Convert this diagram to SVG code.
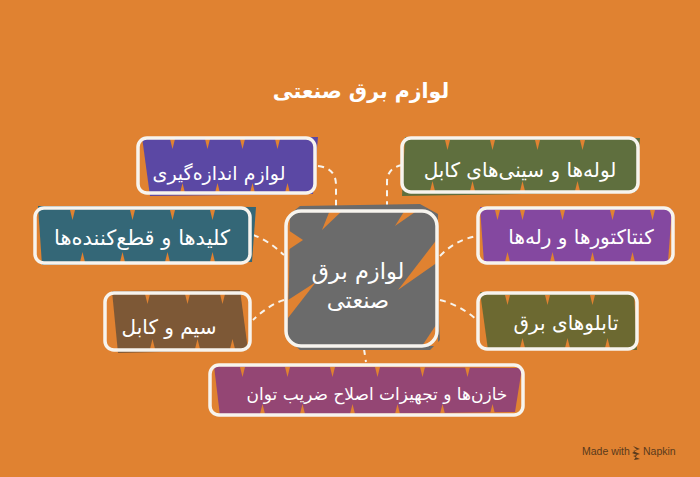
<svg xmlns="http://www.w3.org/2000/svg" xmlns:xlink="http://www.w3.org/1999/xlink" width="700" height="477" viewBox="0 0 700 477">
<style>
.bg{fill:#E08231}
.frame{fill:none;stroke:#F7F4EE;stroke-width:3.5}
.lbl{font-family:"DejaVu Sans","Noto Sans",sans-serif;font-size:20px;fill:#FFFFFF;text-anchor:middle;direction:rtl}
.ctr{font-size:22.5px}
.title{font-family:"DejaVu Sans","Noto Sans",sans-serif;font-size:20.5px;font-weight:bold;fill:#FFFFFF;text-anchor:middle;direction:rtl}
.conn{fill:none;stroke:#F7F4EE;stroke-width:2;stroke-dasharray:6 5}
.notch{fill:#E08231}
.credit{font-family:"Liberation Sans","DejaVu Sans",sans-serif;font-size:10.5px;fill:#5A3A1C}
</style>
<defs>
<path id="nt" class="notch" d="M0 0 L2.5 10 L5 0 Z"/>
<path id="nb" class="notch" d="M0 0 L2.5 -10 L5 0 Z"/>
</defs>
<rect class="bg" x="0" y="0" width="700" height="477"/>
<text class="title" x="361" y="98">لوازم برق صنعتی</text>

<g id="connectors">
<path class="conn" d="M318 166 Q336 168 336 185 L336 209"/>
<path class="conn" d="M402 165 Q387 168 387 182 L387 209"/>
<path class="conn" d="M253 235 Q268 240 284 255"/>
<path class="conn" d="M284 300 Q270 304 253 320"/>
<path class="conn" d="M440 256 Q455 240 477 236"/>
<path class="conn" d="M440 300 Q460 305 477 320"/>
<path class="conn" d="M364 349 L366 362"/>
</g>

<g id="center">
<path fill="#6B6B6B" d="M290 214 L300 206 L420 204 L438 214 L437 290 L440 340 L430 350 L300 350 L287 338 L289 280 Z"/>
<path class="notch" d="M438 238 L398 290 L438 262 Z"/>
<path class="notch" d="M288 230 L303 240 L288 250 Z"/>
<path class="notch" d="M288 300 L316 282 L288 318 Z"/>
<path class="notch" d="M330 210 L343 210 L322 230 Z"/>
<path class="notch" d="M405 210 L418 210 L395 226 Z"/>
<path class="notch" d="M438 322 L422 346 L438 346 Z"/>
<rect class="frame" x="286" y="211" width="151" height="135" rx="15"/>
<text class="lbl ctr" x="358" y="279">لوازم برق</text>
<text class="lbl ctr" x="358" y="308">صنعتی</text>
</g>

<g id="n1">
<path fill="#5B48A4" d="M142 137 L318 137 L313 194 L150 196 Z"/>
<use href="#nt" x="170" y="139"/><use href="#nt" x="205" y="139"/><use href="#nt" x="240" y="139"/><use href="#nt" x="275" y="139"/>
<use href="#nb" x="180" y="193"/><use href="#nb" x="215" y="193"/><use href="#nb" x="250" y="193"/><use href="#nb" x="285" y="193"/>
<rect class="frame" x="138" y="138" width="177" height="55" rx="9"/>
<text class="lbl" x="219" y="180" style="font-size:19px">لوازم اندازه‌گیری</text>
</g>

<g id="n2">
<path fill="#346777" d="M38 206 L256 207 L252 262 L42 265 Z"/>
<use href="#nt" x="70" y="210"/><use href="#nt" x="130" y="210"/><use href="#nt" x="170" y="210"/><use href="#nt" x="210" y="210"/>
<use href="#nb" x="80" y="262"/><use href="#nb" x="120" y="262"/><use href="#nb" x="165" y="262"/><use href="#nb" x="210" y="262"/>
<rect class="frame" x="35" y="208" width="215" height="55" rx="9"/>
<text class="lbl" x="142" y="245" style="font-size:21px">کلیدها و قطع‌کننده‌ها</text>
</g>

<g id="n3">
<path fill="#7D5836" d="M112 291 L240 290 L248 350 L118 353 Z"/>
<use href="#nt" x="145" y="294"/><use href="#nt" x="185" y="294"/><use href="#nt" x="220" y="294"/>
<use href="#nb" x="150" y="349"/><use href="#nb" x="195" y="349"/><use href="#nb" x="230" y="349"/>
<rect class="frame" x="105" y="293" width="145" height="57" rx="9"/>
<text class="lbl" x="169" y="334">سیم و کابل</text>
</g>

<g id="n4">
<path fill="#5F6F3E" d="M405 137 L640 138 L636 192 L402 196 Z"/>
<use href="#nt" x="445" y="140"/><use href="#nt" x="490" y="140"/><use href="#nt" x="535" y="140"/><use href="#nt" x="580" y="140"/>
<use href="#nb" x="430" y="191"/><use href="#nb" x="470" y="191"/><use href="#nb" x="520" y="191"/><use href="#nb" x="575" y="191"/>
<rect class="frame" x="402" y="138" width="236" height="54" rx="9"/>
<text class="lbl" x="520" y="177">لوله‌ها و سینی‌های کابل</text>
</g>

<g id="n5">
<path fill="#8448A0" d="M480 207 L672 209 L668 262 L484 263 Z"/>
<use href="#nt" x="495" y="210"/><use href="#nt" x="520" y="210"/><use href="#nt" x="560" y="210"/><use href="#nt" x="610" y="210"/><use href="#nt" x="650" y="210"/>
<use href="#nb" x="505" y="262"/><use href="#nb" x="550" y="262"/><use href="#nb" x="590" y="262"/><use href="#nb" x="630" y="262"/>
<rect class="frame" x="478" y="208" width="195" height="55" rx="9"/>
<text class="lbl" x="581" y="244">کنتاکتورها و رله‌ها</text>
</g>

<g id="n6">
<path fill="#6C6931" d="M480 292 L634 293 L637 350 L488 350 Z"/>
<use href="#nt" x="505" y="295"/><use href="#nt" x="545" y="295"/><use href="#nt" x="590" y="295"/>
<use href="#nb" x="520" y="348"/><use href="#nb" x="565" y="348"/><use href="#nb" x="605" y="348"/>
<rect class="frame" x="478" y="293" width="159" height="56" rx="9"/>
<text class="lbl" x="566" y="330">تابلوهای برق</text>
</g>

<g id="n7">
<path fill="#944674" d="M214 366 L522 368 L515 412 L220 416 Z"/>
<use href="#nt" x="240" y="367"/><use href="#nt" x="285" y="367"/><use href="#nt" x="330" y="367"/><use href="#nt" x="375" y="367"/><use href="#nt" x="420" y="367"/><use href="#nt" x="465" y="367"/>
<use href="#nb" x="260" y="414"/><use href="#nb" x="300" y="414"/><use href="#nb" x="350" y="414"/><use href="#nb" x="395" y="414"/><use href="#nb" x="440" y="414"/><use href="#nb" x="490" y="414"/>
<rect class="frame" x="210" y="365" width="313" height="50" rx="9"/>
<text class="lbl" x="377" y="400" style="font-size:17px">خازن‌ها و تجهیزات اصلاح ضریب توان</text>
</g>

<g id="credit">
<text class="credit" x="582" y="455">Made with</text>
<path fill="#5A3A1C" d="M633 446 L640 449 L633 451 L640 454 L633 456 L640 459 L634 460 L637 455 L632 453 L637 450 Z"/>
<text class="credit" x="643" y="455">Napkin</text>
</g>
</svg>
